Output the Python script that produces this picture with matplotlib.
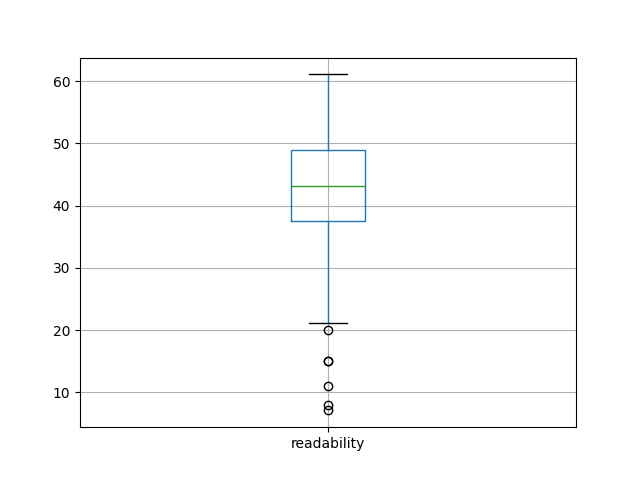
import matplotlib
matplotlib.use("Agg")
import matplotlib.pyplot as plt

# readability score summary
labels = ["readability"]
q1 = [37.5]
median = [43.1]
q3 = [49.0]
whisker_low = [21.1]
whisker_high = [61.1]
outliers = [[20.0, 15.0, 15.0, 11.0, 8.0, 7.1]]

stats = []
for i, lab in enumerate(labels):
    stats.append({
        "label": lab,
        "q1": q1[i],
        "med": median[i],
        "q3": q3[i],
        "whislo": whisker_low[i],
        "whishi": whisker_high[i],
        "fliers": outliers[i],
    })

fig, ax = plt.subplots(figsize=(6.4, 4.8), dpi=100)
ax.bxp(stats,
       boxprops=dict(color="C0"),
       whiskerprops=dict(color="C0"),
       medianprops=dict(color="C2"),
       capprops=dict(color="k"))
ax.grid(True)
fig.savefig("out.png")
